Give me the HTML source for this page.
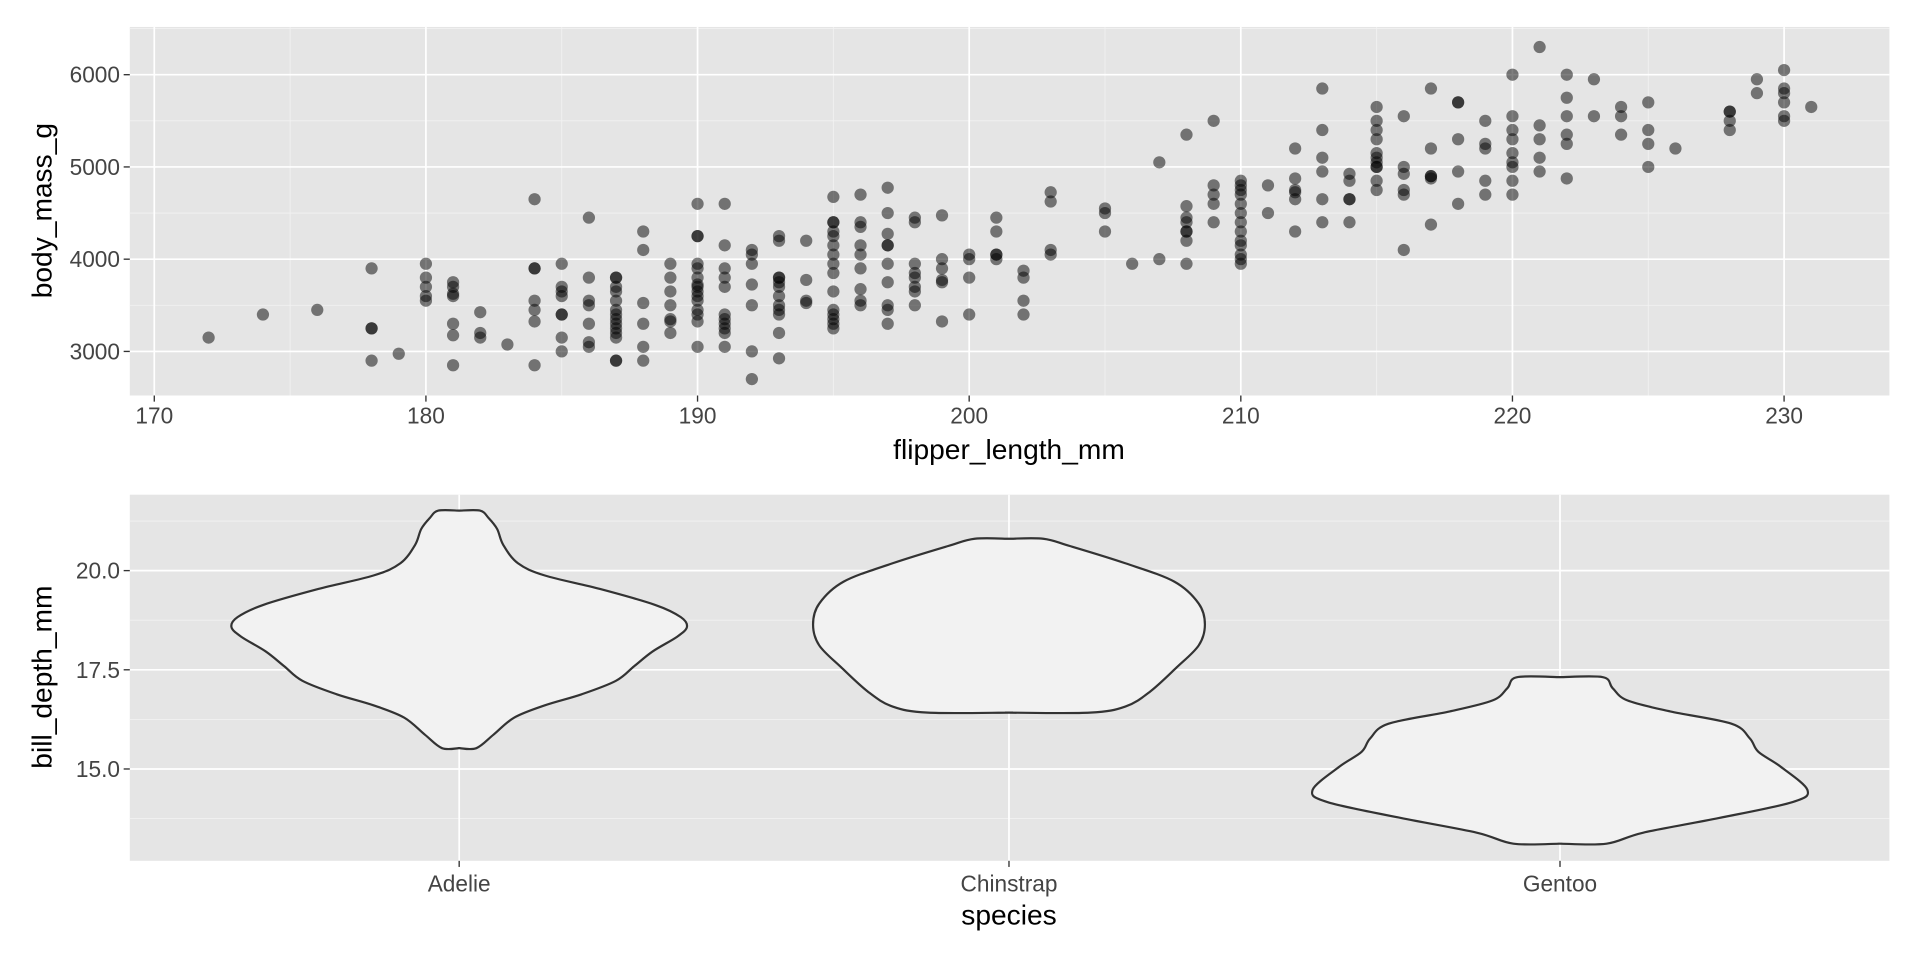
<!DOCTYPE html>
<html><head><meta charset="utf-8"><style>
html,body{margin:0;padding:0;background:#fff;}
svg{display:block;}
text{font-family:"Liberation Sans",sans-serif;}
.tk{fill:#444;font-size:18.5px;}
.tt{fill:#000;font-size:23px;}
</style></head><body>
<svg id="s" width="1920" height="960" viewBox="0 0 1568 784" xmlns="http://www.w3.org/2000/svg">
<rect x="0" y="0" width="1568" height="784" fill="#fff"/>
<g id="gtop"></g>
<g id="gbot"></g>
</svg>
<script>
(function(){
const NS="http://www.w3.org/2000/svg";
function el(p,t,a,txt){const e=document.createElementNS(NS,t);for(const k in a)e.setAttribute(k,a[k]);if(txt!==undefined)e.textContent=txt;p.appendChild(e);return e;}
const gTop=document.getElementById('gtop'),gBot=document.getElementById('gbot');
const L=106,R=1543,T=22,B=323;
el(gTop,'rect',{x:L,y:T,width:R-L,height:B-T,fill:'#e5e5e5'});
const X=v=>126+(v-170)*(1457-126)/60, Y=v=>287-(v-3000)*(287-61)/3000;
for(let v=175;v<=235;v+=10){const x=X(v);if(x>L&&x<R)el(gTop,'line',{x1:x,x2:x,y1:T,y2:B,stroke:'#f2f2f2','stroke-width':0.7});}
for(let v=2500;v<=6500;v+=1000){const y=Y(v);if(y>T&&y<B)el(gTop,'line',{x1:L,x2:R,y1:y,y2:y,stroke:'#f2f2f2','stroke-width':0.7});}
for(let v=170;v<=230;v+=10){const x=X(v);el(gTop,'line',{x1:x,x2:x,y1:T,y2:B,stroke:'#fff','stroke-width':1.4});
 el(gTop,'line',{x1:x,x2:x,y1:B,y2:B+5,stroke:'#333','stroke-width':1.1});el(gTop,'text',{x:x,y:B+23,'text-anchor':'middle',class:'tk'},v);}
for(let v=3000;v<=6000;v+=1000){const y=Y(v);el(gTop,'line',{x1:L,x2:R,y1:y,y2:y,stroke:'#fff','stroke-width':1.4});
 el(gTop,'line',{x1:L-5,x2:L,y1:y,y2:y,stroke:'#333','stroke-width':1.1});el(gTop,'text',{x:L-8,y:y+6.5,'text-anchor':'end',class:'tk'},v);}
const D={172:[3150],174:[3400],176:[3450],178:[3900,3250,3250,2900],179:[2975],180:[3950,3800,3700,3600,3550],
181:[3750,3700,3625,3600,3300,3175,2850],182:[3425,3200,3150],183:[3075],184:[4650,3900,3900,3550,3450,3325,2850],
185:[3950,3700,3650,3600,3400,3400,3150,3000],186:[4450,3800,3550,3500,3300,3100,3050],
187:[3800,3800,3700,3650,3550,3450,3400,3350,3300,3250,3200,3150,2900,2900],188:[4300,4100,3525,3300,3050,2900],
189:[3950,3800,3650,3500,3350,3325,3200],190:[4600,4250,4250,3950,3900,3800,3725,3700,3650,3600,3550,3450,3400,3325,3050],
191:[4600,4150,3900,3800,3700,3400,3350,3300,3250,3200,3050],192:[4100,4050,3950,3725,3500,3000,2700],
193:[4250,4200,3800,3800,3750,3700,3600,3450,3500,3400,3200,2925],194:[4200,3775,3550,3525],
195:[4675,4400,4400,4300,4250,4150,4050,3950,3850,3650,3450,3400,3350,3300,3250],
196:[4700,4400,4350,4150,4050,3900,3675,3550,3500],197:[4775,4500,4275,4150,4150,3950,3750,3500,3450,3300],
198:[4450,4400,3950,3850,3800,3700,3650,3500],199:[4475,4000,3900,3775,3750,3325],200:[4050,4000,3800,3400],
201:[4450,4300,4050,4050,4000],202:[3875,3800,3550,3400],203:[4725,4625,4100,4050],205:[4550,4500,4300],206:[3950],
207:[5050,4000],208:[5350,4575,4450,4400,4300,4300,4200,3950],209:[5500,4800,4700,4600,4400],
210:[4850,4800,4750,4700,4600,4500,4400,4300,4200,4150,4050,4000,3950],211:[4800,4500],
212:[5200,4875,4750,4725,4650,4300],213:[5850,5400,5100,4950,4650,4400],214:[4925,4850,4650,4650,4400],
215:[5650,5500,5400,5300,5150,5100,5050,5000,5000,4850,4750],216:[5550,5000,4925,4750,4700,4100],
217:[5850,5200,4900,4900,4875,4375],218:[5700,5700,5300,4950,4600],219:[5500,5250,5200,4850,4700],
220:[6000,5550,5400,5300,5150,5050,5000,4850,4700],221:[6300,5450,5300,5100,4950],222:[6000,5750,5550,5350,5250,4875],
223:[5950,5550],224:[5650,5550,5350],225:[5700,5400,5250,5000],226:[5200],228:[5600,5600,5500,5400],229:[5950,5800],
230:[6050,5850,5800,5700,5550,5500],231:[5650]};
for(const f in D)for(const m of D[f])el(gTop,'circle',{cx:X(+f),cy:Y(m),r:5,fill:'rgba(0,0,0,0.5)'});
el(gTop,'text',{x:824,y:375,'text-anchor':'middle',class:'tt'},'flipper_length_mm');
el(gTop,'text',{x:0,y:0,'text-anchor':'middle',class:'tt',transform:'translate(42,172) rotate(-90)'},'body_mass_g');
const T2=404,B2=703;
el(gBot,'rect',{x:L,y:T2,width:R-L,height:B2-T2,fill:'#e5e5e5'});
const Y2=v=>466-(v-20)*(628-466)/5;
for(const v of [13.75,16.25,18.75,21.25])el(gBot,'line',{x1:L,x2:R,y1:Y2(v),y2:Y2(v),stroke:'#f2f2f2','stroke-width':0.7});
for(const v of [15,17.5,20]){const y=Y2(v);el(gBot,'line',{x1:L,x2:R,y1:y,y2:y,stroke:'#fff','stroke-width':1.4});
 el(gBot,'line',{x1:L-5,x2:L,y1:y,y2:y,stroke:'#333','stroke-width':1.1});el(gBot,'text',{x:L-8,y:y+6.5,'text-anchor':'end',class:'tk'},v.toFixed(1));}
const sp=[['Adelie',375],['Chinstrap',824],['Gentoo',1274]];
for(const [n,x] of sp){el(gBot,'line',{x1:x,x2:x,y1:T2,y2:B2,stroke:'#fff','stroke-width':1.4});
 el(gBot,'line',{x1:x,x2:x,y1:B2,y2:B2+5,stroke:'#333','stroke-width':1.1});el(gBot,'text',{x:x,y:B2+25,'text-anchor':'middle',class:'tk'},n);}
function violin(c,pts){
 const r=pts.map(p=>[c+p[0],p[1]]);
 const l=pts.slice().reverse().map(p=>[c-p[0],p[1]]);
 const all=r.concat(l);
 let d='M'+all[0][0]+','+all[0][1];
 for(let i=0;i<all.length-1;i++){const p0=all[Math.max(i-1,0)],p1=all[i],p2=all[i+1],p3=all[Math.min(i+2,all.length-1)];
  const c1=[p1[0]+(p2[0]-p0[0])/6,p1[1]+(p2[1]-p0[1])/6],c2=[p2[0]-(p3[0]-p1[0])/6,p2[1]-(p3[1]-p1[1])/6];
  d+=` C${c1[0]},${c1[1]} ${c2[0]},${c2[1]} ${p2[0]},${p2[1]}`;}
 d+='Z';
 el(gBot,'path',{d:d,fill:'#f2f2f2',stroke:'#333','stroke-width':1.8,'stroke-linejoin':'round'});
}
violin(375,[[0,417],[17,417],[24,423],[31,432],[36,445],[48,460],[70,470],[115,481],[160,494],[181,504],[186,512],[178,520],[158,532],[143,544],[128,556],[100,567],[70,576],[45,586],[28,600],[14,611],[0,611]]);
violin(824,[[0,440],[28,440],[50,446],[95,460],[135,475],[155,493],[160,510],[155,527],[137,545],[115,565],[95,577],[66,582],[0,582]]);
violin(1274,[[0,553],[35,553],[43,562],[55,572],[90,581],[140,591],[155,603],[162,614],[180,626],[202,645],[190,655],[130,668],[68,680],[38,689],[0,689]]);
el(gBot,'text',{x:824,y:755,'text-anchor':'middle',class:'tt'},'species');
el(gBot,'text',{x:0,y:0,'text-anchor':'middle',class:'tt',transform:'translate(42,553) rotate(-90)'},'bill_depth_mm');
})();
</script>
</body></html>
